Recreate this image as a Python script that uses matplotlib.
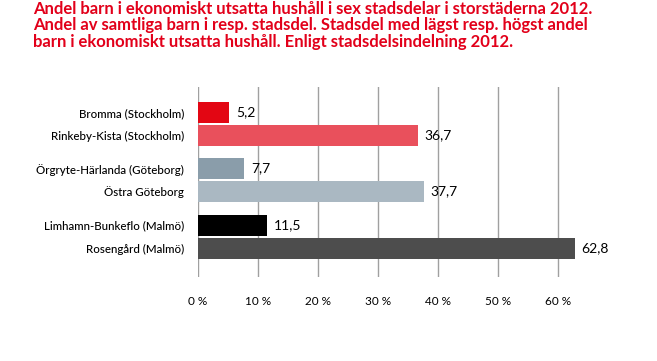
import matplotlib
matplotlib.use('Agg')
import matplotlib.pyplot as plt

# data
districts = ['Bromma (Stockholm)', 'Rinkeby-Kista (Stockholm)',
             'Örgryte-Härlanda (Göteborg)', 'Östra Göteborg',
             'Limhamn-Bunkeflo (Malmö)', 'Rosengård (Malmö)']
shares = [5.2, 36.7, 7.7, 37.7, 11.5, 62.8]
bar_colors = ['#E30613', '#E9505C', '#8A9DAA', '#AAB8C2', '#000000', '#4D4D4D']
ticks = [0, 10, 20, 30, 40, 50, 60]
tick_labels = ['0 %', '10 %', '20 %', '30 %', '40 %', '50 %', '60 %']

title = ('Andel barn i ekonomiskt utsatta hushåll i sex stadsdelar i storstäderna 2012.\n'
         'Andel av samtliga barn i resp. stadsdel. Stadsdel med lägst resp. högst andel\n'
         'barn i ekonomiskt utsatta hushåll. Enligt stadsdelsindelning 2012.')

# two bars per city, small gap between cities
ypos = [0, 1, 2.45, 3.45, 4.92, 5.92]

plt.rcParams['font.family'] = ['Lato', 'DejaVu Sans']

W, H = 657, 361
fig = plt.figure(figsize=(W / 100, H / 100), dpi=100)
ax = fig.add_axes([198 / W, (H - 277) / H, 420 / W, 190 / H])

ax.barh(ypos, shares, height=0.91, color=bar_colors, zorder=2)
for y, v in zip(ypos, shares):
    ax.text(v + 1.1, y, f'{v:.1f}'.replace('.', ','), va='center', ha='left',
            fontsize=10, color='black')

ax.set_xlim(0, 70)
ax.set_ylim(7.18, -1.11)
ax.set_xticks(ticks)
ax.set_xticklabels(tick_labels, fontsize=8.5)
ax.set_yticks(ypos)
ax.set_yticklabels(districts, fontsize=8.3, fontweight='medium')
ax.tick_params(axis='both', length=0)
ax.tick_params(axis='x', pad=14)
ax.tick_params(axis='y', pad=10)
ax.grid(axis='x', color='#A0A0A0', linewidth=1.0, zorder=1)
for s in ax.spines.values():
    s.set_visible(False)

fig.text(33 / W, 1 - 1 / H, title, ha='left', va='top', color='#E2001A',
         fontsize=12, fontweight='bold', linespacing=1.02)

fig.savefig('out.png', dpi=100)
